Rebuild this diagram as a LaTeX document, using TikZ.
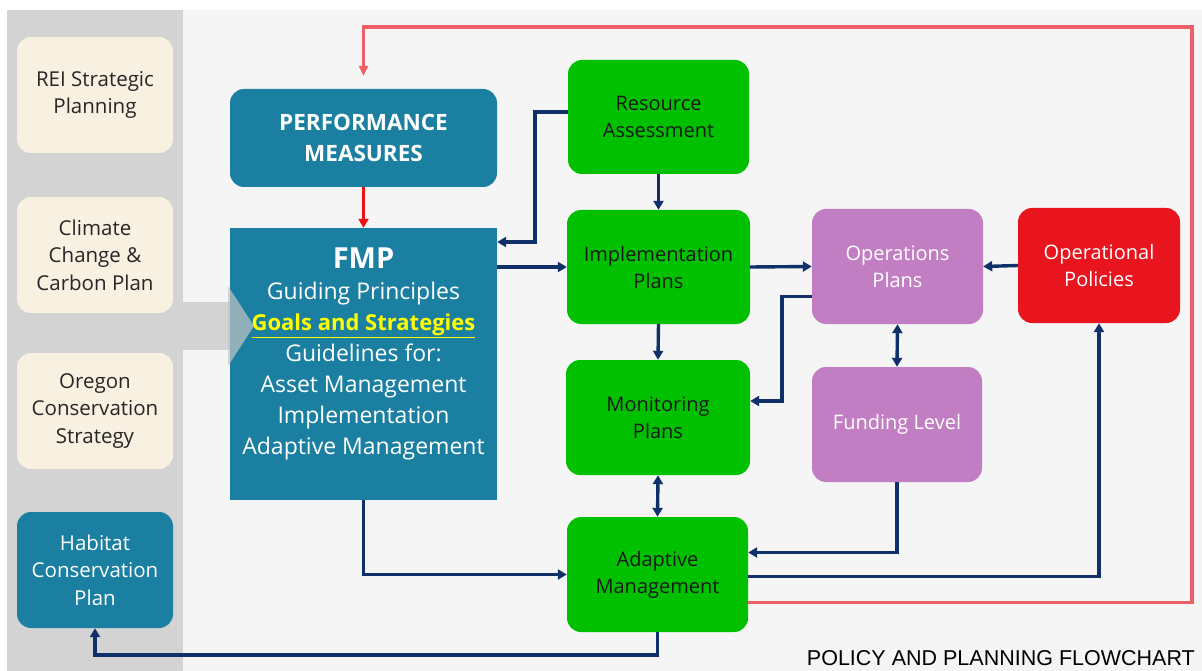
\documentclass[tikz,border=0pt]{standalone}
\usepackage{fontspec}
\setmainfont{Open Sans}
\newfontfamily\titlefont{Liberation Sans}
\usetikzlibrary{arrows.meta}
\definecolor{bgmain}{HTML}{F5F5F5}
\definecolor{strip}{HTML}{D3D3D3}
\definecolor{cream}{HTML}{F8F1E2}
\definecolor{teal}{HTML}{1A7FA1}
\definecolor{grn}{HTML}{00C000}
\definecolor{purp}{HTML}{C27EC2}
\definecolor{redbox}{HTML}{E8141E}
\definecolor{navy}{HTML}{0F3069}
\definecolor{pinkline}{HTML}{EF5F6A}
\definecolor{redarrow}{HTML}{EE1111}
\definecolor{yel}{HTML}{FFFF00}
\tikzset{
  box/.style={rounded corners=14pt, inner sep=0pt, align=center,
    font=\fontsize{20}{27}\selectfont},
  creambox/.style={box, fill=cream, text=black!85, minimum width=156pt, minimum height=116pt},
  tealbox/.style={box, fill=teal, text=white},
  greenbox/.style={box, fill=grn, text=black!90},
  purpbox/.style={box, fill=purp, text=white},
  redbx/.style={box, fill=redbox, text=white},
  nav/.style={draw=navy, line width=3.4pt, -{Triangle[length=9pt,width=10pt]}},
  navboth/.style={draw=navy, line width=3.4pt, {Triangle[length=9pt,width=10pt]}-{Triangle[length=9pt,width=10pt]}},
  pinkarrow/.style={draw=pinkline, line width=3.8pt, -{Triangle[length=10pt,width=9pt]}},
}
\begin{document}
\begin{tikzpicture}[x=1pt,y=-1pt]
\useasboundingbox (0,0) rectangle (1202,671);
\fill[white] (0,0) rectangle (1202,671);
\fill[bgmain] (183,10) rectangle (1202,671);
\fill[strip] (7,10) rectangle (183,671);
\fill[strip] (183,302) rectangle (232,350);

% left column
\node[creambox, font=\fontsize{20.5}{27.5}\selectfont] (rei) at (95,95) {REI Strategic\\Planning};
\node[creambox, font=\fontsize{20.5}{27.5}\selectfont] (ccc) at (95,255) {Climate\\Change \&\\Carbon Plan};
\node[creambox, font=\fontsize{20.5}{27.5}\selectfont] (ocs) at (95,411) {Oregon\\Conservation\\Strategy};
\node[tealbox, minimum width=156pt, minimum height=116pt, font=\fontsize{20.5}{27.5}\selectfont] (hcp) at (95,570) {Habitat\\Conservation\\Plan};

% performance measures and FMP
\node[tealbox, minimum width=267pt, minimum height=98pt, font=\fontsize{22.5}{31}\selectfont\bfseries] (pm) at (363.5,138) {PERFORMANCE\\MEASURES};
\node[fill=teal, minimum width=267pt, minimum height=272pt, inner sep=0pt] (fmp) at (363.5,364) {};
\fill[gray!45, opacity=0.7] (228,286) -- (254,326) -- (228,366) -- cycle;
\node[align=center, text=white, font=\fontsize{23}{30.9}\selectfont] (fmptext) at (363.5,354)
  {{\fontsize{29}{31}\selectfont\bfseries FMP}\\Guiding Principles\\{\color{yel}\fontsize{22}{30.9}\selectfont\bfseries\underline{Goals and Strategies}}\\Guidelines for:\\Asset Management\\Implementation\\Adaptive Management};

% green column
\node[greenbox, minimum width=181pt, minimum height=114pt] (ra) at (658.5,117) {Resource\\Assessment};
\node[greenbox, minimum width=183pt, minimum height=114pt] (ip) at (658.5,267) {Implementation\\Plans};
\node[greenbox, minimum width=184pt, minimum height=115pt] (mp) at (658,417.5) {Monitoring\\Plans};
\node[greenbox, minimum width=181pt, minimum height=115pt] (am) at (657.5,574.5) {Adaptive\\Management};

% purple and red
\node[purpbox, minimum width=171pt, minimum height=115pt] (op) at (897.5,266.5) {Operations\\Plans};
\node[purpbox, minimum width=170pt, minimum height=115pt] (fl) at (897,424.5) {Funding Level};
\node[redbx, minimum width=162pt, minimum height=115pt] (opol) at (1099,265.5) {Operational\\Policies};

% coordinates
\coordinate (c1) at (535,242);
\coordinate (c2) at (782,401);
\coordinate (c4) at (1192,27);
\coordinate (c5) at (0,655);

% connectors
\draw[draw=redarrow, line width=2.6pt, -{Triangle[length=9pt,width=10pt]}] (pm.south) -- (fmp.north);
\draw[nav] ([yshift=5pt]ra.west) -| (c1) -- (c1 -| fmp.east);
\draw[nav] (fmp.east |- ip.west) -- (ip.west);
\draw[nav] (ra.south) -- (ip.north);
\draw[nav] (ip.south) -- (mp.north);
\draw[navboth] (mp.south) -- (am.north);
\draw[nav] (ip.east) -- (op.west);
\draw[nav] ([yshift=-30pt]op.west) -| (c2) -- (c2 -| mp.east);
\draw[nav] (opol.west) -- (op.east);
\draw[navboth] (op.south) -- (fl.north);
\draw[nav] (fl.south) |- ([yshift=22pt]am.east);
\draw[nav] ([yshift=-2pt]am.east) -| (opol.south);
\draw[pinkarrow, shorten >=13pt] ([yshift=-28pt]am.east) -| (c4) -| (pm.north);
\draw[nav] (fmp.south) |- (am.west);
\draw[nav] (am.south) -- (am.south |- c5) -| (hcp.south);

% title
\node[font=\titlefont\fontsize{21.5}{21.5}\selectfont, anchor=base east, inner sep=0pt] (title) at (1195,665) {POLICY AND PLANNING FLOWCHART};
\end{tikzpicture}
\end{document}
